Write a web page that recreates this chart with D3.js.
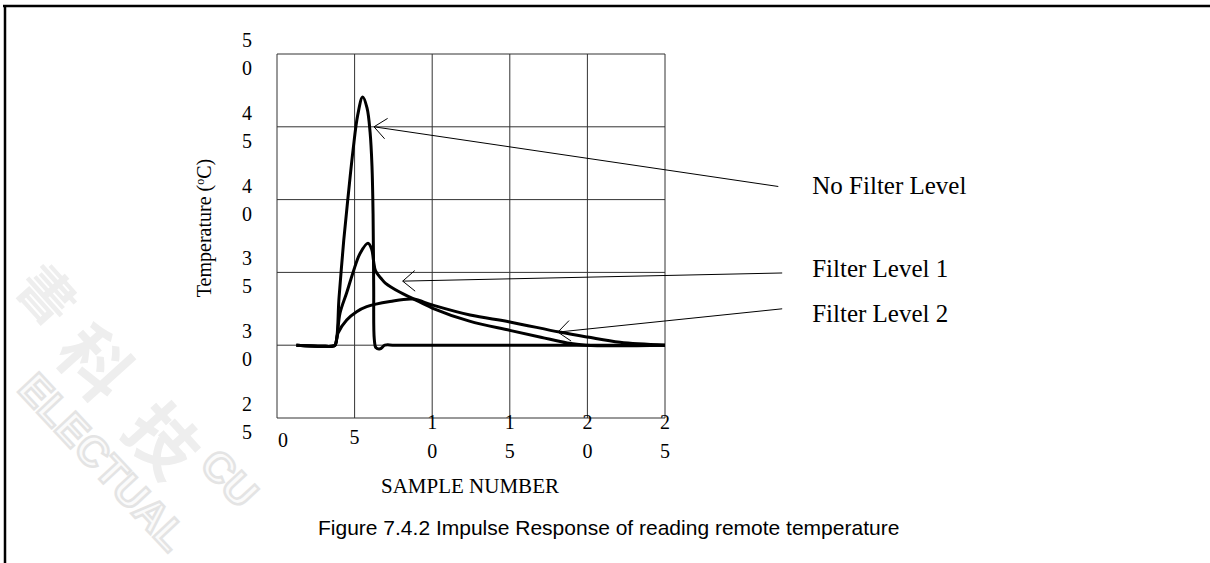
<!DOCTYPE html>
<html>
<head>
<meta charset="utf-8">
<script src="https://cdn.jsdelivr.net/npm/d3@7"></script>
<style>
  body { margin: 0; background: #fff; }
  svg { display: block; }
</style>
</head>
<body>
<svg id="chart"></svg>
<script>
// data: [sample number, temperature]
const xTicks = [0, 5, 10, 15, 20, 25];
const yTicks = [25, 30, 35, 40, 45, 50];

const noFilter = [[1.25, 30], [2.9, 29.93], [3.55, 29.93], [3.74, 30], [4.0, 33.3], [4.3, 37.2],
    [4.6, 40.4], [4.9, 43.4], [5.2, 45.8], [5.52, 47.05], [5.8, 46.3], [6.0, 44.6], [6.12, 42.3],
    [6.19, 39], [6.23, 34], [6.27, 30.4], [6.38, 29.82], [6.65, 29.75], [6.95, 30], [7.6, 30], [25, 30]];

const filter1 = [[1.25, 30], [2.9, 29.93], [3.55, 29.93], [3.74, 30], [4.06, 32.2], [4.49, 33.6],
    [4.9, 35], [5.35, 36.3], [5.86, 37.0], [6.1, 36.6], [6.22, 35.8], [6.35, 35.1], [6.7, 34.6],
    [7.0, 34.25], [7.9, 33.65], [8.76, 33.2], [10, 32.55], [12.4, 31.65], [15, 31.02], [17, 30.55],
    [18.7, 30.15], [19.9, 30], [25, 30]];

const filter2 = [[1.25, 30], [2.9, 29.93], [3.55, 29.93], [3.74, 30], [3.93, 30.83], [4.49, 31.73],
    [5.13, 32.3], [5.78, 32.65], [7.28, 33.0], [8.76, 33.17], [10, 32.76], [12.44, 32.07], [15, 31.6],
    [18.2, 30.9], [20, 30.56], [22.1, 30.2], [25, 30]];

const seriesNames = ['No Filter Level', 'Filter Level 1', 'Filter Level 2'];
// arrow tip and tail for each label, in chart units
const arrowTips = [[6.25, 45], [8.1, 34.4], [18.1, 30.9]];
const arrowTails = [[32.3, 40.9], [32.55, 34.96], [32.55, 32.5]];

// watermark glyphs left over from the scan
const wmChars = ['書', '科', '技'];
const wmCenters = [[50, 292], [98, 360], [166, 437]];

const config = {
    width: 1210,
    height: 563,
    left: 277,
    right: 665,
    top: 54,
    bottom: 418
};

let svg = d3.select('#chart')
    .attr('width', config.width)
    .attr('height', config.height);

// faint scan watermark
const wm = svg.append('g').style('pointer-events', 'none');
wm.selectAll('.wmchar')
    .data(wmChars)
    .enter()
    .append('text')
    .attr('transform', (d, i) => `translate(${wmCenters[i][0]},${wmCenters[i][1]}) rotate(48)`)
    .attr('text-anchor', 'middle')
    .attr('dominant-baseline', 'central')
    .attr('font-family', 'Noto Sans CJK TC')
    .attr('font-weight', 'bold')
    .attr('font-size', (d, i) => i === 0 ? 56 : 70)
    .attr('fill', '#eeeeee')
    .text(d => d);
wm.append('text')
    .attr('transform', 'translate(16,390) rotate(47)')
    .attr('font-family', 'Liberation Sans')
    .attr('font-weight', 'bold')
    .attr('font-size', 42)
    .attr('fill', '#fbfbfb')
    .attr('stroke', '#e4e4e4')
    .attr('stroke-width', 2.5)
    .text('ELECTUAL');
wm.append('text')
    .attr('transform', 'translate(198,466) rotate(47)')
    .attr('font-family', 'Liberation Sans')
    .attr('font-weight', 'bold')
    .attr('font-size', 42)
    .attr('fill', '#fbfbfb')
    .attr('stroke', '#e4e4e4')
    .attr('stroke-width', 2.5)
    .text('CU');

// page frame
svg.append('line').attr('x1', 3).attr('x2', config.width).attr('y1', 6).attr('y2', 6)
    .style('stroke', 'black').style('stroke-width', 2.5);
svg.append('line').attr('x1', 5).attr('x2', 5).attr('y1', 5).attr('y2', config.height)
    .style('stroke', 'black').style('stroke-width', 2.5);

// scales
let xScale = d3.scaleLinear()
    .domain([0, 25])
    .range([config.left, config.right]);

let yScale = d3.scaleLinear()
    .domain([25, 50])
    .range([config.bottom, config.top]);

// grid
svg.selectAll('.vgrid')
    .data(xTicks)
    .enter()
    .append('line')
    .attr('x1', d => xScale(d)).attr('x2', d => xScale(d))
    .attr('y1', config.top).attr('y2', config.bottom)
    .style('stroke', '#333').style('stroke-width', 1);

svg.selectAll('.hgrid')
    .data(yTicks)
    .enter()
    .append('line')
    .attr('y1', d => yScale(d)).attr('y2', d => yScale(d))
    .attr('x1', config.left).attr('x2', config.right)
    .style('stroke', '#333').style('stroke-width', 1);

// tick labels, digits stacked like the original
const serif = 'Liberation Serif, Times New Roman, serif';

svg.selectAll('.ylab')
    .data(yTicks)
    .enter()
    .append('g')
    .each(function (d) {
        const digits = String(d).split('');
        d3.select(this).selectAll('text')
            .data(digits)
            .enter()
            .append('text')
            .attr('x', 247)
            .attr('y', (c, i) => yScale(d) - 14 + i * 28)
            .attr('text-anchor', 'middle')
            .attr('dominant-baseline', 'central')
            .attr('font-family', serif)
            .attr('font-size', 20)
            .text(c => c);
    });

svg.selectAll('.xlab')
    .data(xTicks)
    .enter()
    .append('g')
    .each(function (d) {
        const digits = String(d).split('');
        const g = d3.select(this);
        if (digits.length === 1) {
            g.append('text')
                .attr('x', xScale(d) + (d === 0 ? 6 : 0))
                .attr('y', d === 0 ? 440 : 437)
                .attr('text-anchor', 'middle')
                .attr('dominant-baseline', 'central')
                .attr('font-family', serif)
                .attr('font-size', 20)
                .text(d);
        } else {
            g.selectAll('text')
                .data(digits)
                .enter()
                .append('text')
                .attr('x', xScale(d))
                .attr('y', (c, i) => 422 + i * 29)
                .attr('text-anchor', 'middle')
                .attr('dominant-baseline', 'central')
                .attr('font-family', serif)
                .attr('font-size', 20)
                .text(c => c);
        }
    });

// curves
const line = d3.line()
    .x(d => xScale(d[0]))
    .y(d => yScale(d[1]))
    .curve(d3.curveCatmullRom.alpha(0.5));

[noFilter, filter1, filter2].forEach(series => {
    svg.append('path')
        .datum(series)
        .attr('d', line)
        .style('fill', 'none')
        .style('stroke', 'black')
        .style('stroke-width', 3)
        .style('stroke-linejoin', 'round');
});

// annotation arrows with open heads
const labelOffsets = [[34, 8], [30, 4], [30, 13]];
seriesNames.forEach((name, i) => {
    const tx = xScale(arrowTips[i][0]), ty = yScale(arrowTips[i][1]);
    const sx = xScale(arrowTails[i][0]), sy = yScale(arrowTails[i][1]);
    svg.append('line')
        .attr('x1', sx).attr('y1', sy).attr('x2', tx).attr('y2', ty)
        .style('stroke', 'black').style('stroke-width', 1);
    const ang = Math.atan2(sy - ty, sx - tx);
    const len = 16, spread = 0.7;
    const head = [
        [tx + len * Math.cos(ang - spread), ty + len * Math.sin(ang - spread)],
        [tx, ty],
        [tx + len * Math.cos(ang + spread), ty + len * Math.sin(ang + spread)]
    ];
    svg.append('path')
        .attr('d', d3.line()(head))
        .style('fill', 'none').style('stroke', 'black').style('stroke-width', 1);
    svg.append('text')
        .attr('x', sx + labelOffsets[i][0])
        .attr('y', sy + labelOffsets[i][1])
        .attr('font-family', serif)
        .attr('font-size', 25)
        .text(name);
});

// axis titles
const yTitle = svg.append('text')
    .attr('transform', 'translate(211,228) rotate(-90)')
    .attr('text-anchor', 'middle')
    .attr('font-family', serif)
    .attr('font-size', 20);
yTitle.append('tspan').text('Temperature (');
yTitle.append('tspan').attr('font-size', 12).attr('dy', -7).text('o');
yTitle.append('tspan').attr('dy', 7).text('C)');

svg.append('text')
    .attr('x', 470)
    .attr('y', 493)
    .attr('text-anchor', 'middle')
    .attr('font-family', serif)
    .attr('font-size', 21)
    .text('SAMPLE NUMBER');

svg.append('text')
    .attr('x', 318)
    .attr('y', 535)
    .attr('font-family', 'Liberation Sans, Arial, sans-serif')
    .attr('font-size', 21)
    .text('Figure 7.4.2 Impulse Response of reading remote temperature');
</script>
</body>
</html>
